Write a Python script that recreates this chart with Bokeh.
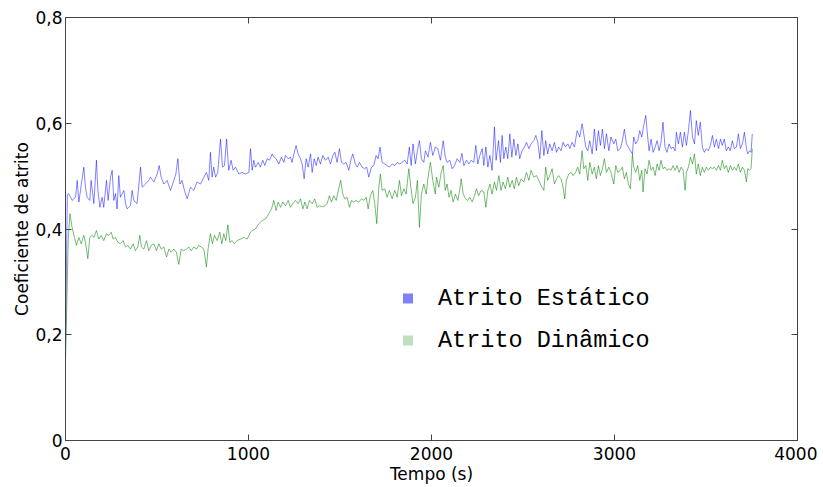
from bokeh.plotting import figure
from bokeh.models import (ColumnDataSource, FixedTicker, LinearAxis, Legend,
                          LegendItem, Range1d)
from bokeh.embed import file_html
from bokeh.resources import INLINE

# ---------------- data ----------------
x_ticks = [0, 1000, 2000, 3000, 4000]
x_tick_labels = ["0", "1000", "2000", "3000", "4000"]
y_ticks = [0, 0.2, 0.4, 0.6, 0.8]
y_tick_labels = ["0", "0,2", "0,4", "0,6", "0,8"]

series_names = ["Atrito Estático", "Atrito Dinâmico"]

static_t = [0, 10, 18, 36, 55, 64, 73, 82, 100, 109, 118, 133, 140, 155, 169, 177, 188, 200, 209, 224,
            233, 246, 255, 264, 273, 282, 291, 300, 319, 328, 337, 355, 364, 373, 391, 410, 419, 437,
            455, 464, 483, 501, 512, 523, 537, 555, 574, 592, 603, 614, 625, 637, 650, 665, 683, 701,
            719, 738, 756, 770, 783, 792, 801, 810, 820, 832, 847, 858, 869, 880, 892, 905, 916, 929,
            947, 965, 983, 1002, 1011,
            1020, 1029, 1038, 1053, 1065, 1078, 1089, 1102, 1115, 1129, 1140, 1151, 1166, 1180, 1193,
            1202, 1217, 1229, 1238, 1248, 1260, 1271, 1284, 1293, 1304, 1315, 1326, 1339, 1348, 1359,
            1370, 1380, 1393, 1406, 1421, 1435, 1448, 1461, 1472, 1484, 1497, 1508, 1521, 1533, 1548,
            1559, 1570, 1584, 1595, 1606, 1621, 1634, 1646, 1657, 1672, 1685, 1697, 1708, 1719, 1730,
            1745, 1757, 1770, 1785, 1799, 1812, 1825, 1839, 1854, 1867, 1879, 1889, 1899, 1912, 1923,
            1934, 1945, 1958, 1967, 1981, 1994, 2007, 2021,
            2034, 2049, 2064, 2075, 2085, 2100, 2113, 2126, 2140, 2155, 2166, 2177, 2191, 2204, 2217,
            2231, 2242, 2253, 2264, 2277, 2286, 2297, 2308, 2319, 2331, 2344, 2353, 2366, 2377, 2386,
            2395, 2406, 2417, 2428, 2439, 2450, 2461, 2472, 2482, 2495, 2508, 2519, 2532, 2544, 2559,
            2570, 2581, 2592, 2603, 2614, 2624, 2635, 2646, 2659, 2672, 2683, 2695, 2708, 2719, 2732,
            2745, 2756, 2768, 2781, 2796, 2810, 2823, 2832, 2843, 2854, 2865, 2878, 2890, 2901, 2912,
            2923, 2934, 2945, 2956, 2969, 2981, 2996, 3007, 3018, 3032,
            3043, 3054, 3065, 3076, 3087, 3098, 3105, 3116, 3127, 3138, 3149, 3160, 3171, 3178, 3189,
            3200, 3211, 3222, 3233, 3244, 3254, 3265, 3276, 3287, 3298, 3309, 3320, 3331, 3338, 3349,
            3360, 3371, 3382, 3393, 3404, 3415, 3426, 3437, 3447, 3458, 3469, 3480, 3491, 3502, 3513,
            3524, 3535, 3546, 3557, 3568, 3579, 3589, 3600, 3611, 3622, 3633, 3644, 3655, 3666, 3677,
            3688, 3699, 3710, 3721, 3728, 3739, 3746, 3753]
static_mu = [0.18, 0.465, 0.467, 0.454, 0.460, 0.492, 0.451, 0.473, 0.517, 0.479, 0.460, 0.454, 0.492,
             0.448, 0.530, 0.473, 0.441, 0.460, 0.441, 0.492, 0.454, 0.498, 0.511, 0.454, 0.467, 0.438,
             0.501, 0.460, 0.473, 0.448, 0.438, 0.444, 0.473, 0.454, 0.448, 0.517, 0.479, 0.485, 0.492,
             0.498, 0.489, 0.504, 0.520, 0.498, 0.485, 0.492, 0.473, 0.492, 0.504, 0.533, 0.485, 0.492,
             0.473, 0.457, 0.479, 0.473, 0.489, 0.485, 0.498, 0.507, 0.492, 0.545, 0.498, 0.517, 0.498,
             0.507, 0.570, 0.517, 0.520, 0.570, 0.511, 0.530, 0.511, 0.517, 0.504, 0.507, 0.504, 0.507,
             0.552,
             0.511, 0.530, 0.517, 0.526, 0.517, 0.530, 0.520, 0.533, 0.530, 0.542, 0.536, 0.533, 0.523,
             0.536, 0.526, 0.539, 0.533, 0.536, 0.526, 0.542, 0.558, 0.542, 0.533, 0.523, 0.495, 0.533,
             0.517, 0.542, 0.507, 0.533, 0.520, 0.536, 0.523, 0.539, 0.530, 0.536, 0.523, 0.539, 0.545,
             0.526, 0.552, 0.526, 0.523, 0.526, 0.511, 0.530, 0.542, 0.523, 0.517, 0.526, 0.517, 0.514,
             0.517, 0.498, 0.517, 0.520, 0.539, 0.533, 0.555, 0.526, 0.523, 0.520, 0.517, 0.523, 0.520,
             0.526, 0.523, 0.526, 0.530, 0.523, 0.555, 0.520, 0.561, 0.523, 0.548, 0.567, 0.533, 0.526,
             0.548, 0.536, 0.564, 0.539, 0.555,
             0.552, 0.530, 0.567, 0.536, 0.526, 0.530, 0.514, 0.520, 0.533, 0.526, 0.543, 0.520, 0.530,
             0.523, 0.530, 0.526, 0.558, 0.523, 0.539, 0.552, 0.520, 0.555, 0.517, 0.539, 0.511, 0.593,
             0.530, 0.567, 0.526, 0.577, 0.533, 0.555, 0.533, 0.580, 0.536, 0.570, 0.539, 0.561, 0.533,
             0.548, 0.555, 0.564, 0.552, 0.561, 0.567, 0.577, 0.564, 0.533, 0.586, 0.539, 0.567, 0.542,
             0.561, 0.548, 0.564, 0.545, 0.555, 0.548, 0.564, 0.555, 0.561, 0.552, 0.564, 0.555, 0.586,
             0.574, 0.599, 0.580, 0.555, 0.548, 0.567, 0.542, 0.589, 0.548, 0.586, 0.558, 0.589, 0.552,
             0.580, 0.548, 0.574, 0.561, 0.570, 0.548, 0.552,
             0.567, 0.589, 0.561, 0.555, 0.548, 0.542, 0.574, 0.561, 0.567, 0.586, 0.574, 0.596, 0.615,
             0.586, 0.548, 0.570, 0.545, 0.555, 0.567, 0.548, 0.564, 0.602, 0.555, 0.545, 0.561, 0.552,
             0.555, 0.548, 0.583, 0.561, 0.583, 0.555, 0.583, 0.558, 0.586, 0.624, 0.574, 0.561, 0.605,
             0.577, 0.602, 0.555, 0.545, 0.552, 0.548, 0.558, 0.577, 0.555, 0.570, 0.552, 0.570, 0.558,
             0.570, 0.548, 0.555, 0.548, 0.567, 0.552, 0.555, 0.580, 0.552, 0.561, 0.583, 0.552, 0.542,
             0.548, 0.545, 0.580]

dynamic_t = [0, 15, 24, 36, 49, 60, 73, 86, 100, 109, 122, 133, 146, 155, 169, 182, 195, 209, 224, 237,
             250, 260, 273, 286, 300, 315, 328, 340, 355, 370, 382, 395, 406, 415, 428, 443, 455, 468,
             483, 497, 510, 523, 537, 552, 565, 577, 592, 606, 619, 632, 646, 661, 674, 687, 701, 716,
             728, 741, 756, 770, 779, 792, 803, 814, 829, 843, 854, 865, 876, 887, 898, 911, 923, 938,
             956, 974, 993, 1011,
             1020, 1038, 1056, 1075, 1093, 1111, 1126, 1138, 1151, 1162, 1175, 1187, 1202, 1217, 1229,
             1242, 1257, 1271, 1284, 1297, 1308, 1320, 1333, 1348, 1362, 1375, 1388, 1402, 1417, 1430,
             1442, 1453, 1466, 1479, 1493, 1504, 1515, 1526, 1539, 1552, 1563, 1575, 1588, 1603, 1617,
             1630, 1643, 1654, 1666, 1679, 1690, 1701, 1712, 1721, 1730, 1745, 1757, 1770, 1785, 1799,
             1812, 1825, 1836, 1849, 1861, 1876, 1887, 1899, 1912, 1923, 1934, 1945, 1958, 1971, 1981,
             1994, 2007, 2021,
             2027, 2040, 2053, 2064, 2075, 2085, 2096, 2107, 2118, 2131, 2144, 2155, 2162, 2173, 2186,
             2198, 2209, 2222, 2235, 2246, 2258, 2271, 2286, 2297, 2308, 2319, 2331, 2344, 2355, 2368,
             2380, 2391, 2404, 2417, 2428, 2441, 2453, 2464, 2477, 2490, 2504, 2519, 2532, 2544, 2559,
             2574, 2586, 2599, 2614, 2624, 2635, 2646, 2659, 2672, 2683, 2695, 2708, 2719, 2728, 2737,
             2750, 2763, 2774, 2787, 2799, 2810, 2823, 2832, 2843, 2854, 2865, 2878, 2890, 2901, 2912,
             2923, 2934, 2945, 2956, 2969, 2981, 2996, 3007, 3018, 3032,
             3043, 3054, 3065, 3076, 3087, 3098, 3105, 3116, 3127, 3138, 3149, 3156, 3167, 3178, 3189,
             3200, 3211, 3222, 3233, 3244, 3254, 3265, 3276, 3287, 3298, 3309, 3320, 3331, 3342, 3353,
             3364, 3375, 3386, 3393, 3404, 3415, 3426, 3437, 3447, 3458, 3469, 3480, 3491, 3502, 3513,
             3524, 3535, 3546, 3557, 3568, 3579, 3589, 3600, 3611, 3622, 3633, 3644, 3655, 3666, 3677,
             3688, 3699, 3710, 3721, 3728, 3739, 3746, 3753]
dynamic_mu = [0.15, 0.38, 0.429, 0.403, 0.384, 0.369, 0.384, 0.372, 0.388, 0.375, 0.344, 0.384, 0.388,
              0.384, 0.397, 0.381, 0.388, 0.378, 0.391, 0.388, 0.394, 0.381, 0.384, 0.375, 0.372, 0.378,
              0.366, 0.369, 0.362, 0.372, 0.359, 0.366, 0.388, 0.366, 0.362, 0.378, 0.359, 0.369, 0.372,
              0.359, 0.372, 0.362, 0.366, 0.347, 0.362, 0.356, 0.362, 0.356, 0.333, 0.362, 0.359, 0.362,
              0.366, 0.359, 0.366, 0.362, 0.369, 0.366, 0.362, 0.328, 0.362, 0.391, 0.372, 0.388, 0.378,
              0.394, 0.372, 0.391, 0.378, 0.408, 0.375, 0.378, 0.372, 0.378, 0.381, 0.384, 0.381, 0.394,
              0.397, 0.400, 0.410, 0.416, 0.419, 0.429, 0.438, 0.454, 0.435, 0.451, 0.441, 0.451, 0.444,
              0.454, 0.441, 0.448, 0.454, 0.448, 0.457, 0.438, 0.451, 0.438, 0.454, 0.448, 0.457, 0.441,
              0.444, 0.442, 0.444, 0.448, 0.463, 0.451, 0.463, 0.454, 0.476, 0.492, 0.466, 0.457, 0.460,
              0.441, 0.454, 0.451, 0.454, 0.451, 0.457, 0.454, 0.460, 0.438, 0.463, 0.473, 0.448, 0.410,
              0.479, 0.504, 0.473, 0.476, 0.460, 0.473, 0.457, 0.473, 0.460, 0.492, 0.463, 0.476, 0.466,
              0.514, 0.479, 0.448, 0.460, 0.492, 0.403, 0.466, 0.485, 0.466, 0.498, 0.526, 0.492, 0.466,
              0.498, 0.479, 0.507, 0.520, 0.473, 0.485, 0.460, 0.473, 0.451, 0.466, 0.454, 0.476, 0.495,
              0.466, 0.457, 0.454, 0.460, 0.451, 0.463, 0.476, 0.463, 0.473, 0.470, 0.441, 0.473, 0.485,
              0.466, 0.489, 0.473, 0.501, 0.473, 0.489, 0.476, 0.498, 0.479, 0.492, 0.476, 0.498, 0.482,
              0.495, 0.489, 0.507, 0.492, 0.511, 0.498, 0.501, 0.492, 0.482, 0.473, 0.517, 0.492, 0.501,
              0.514, 0.485, 0.495, 0.501, 0.495, 0.479, 0.457, 0.492, 0.504, 0.507, 0.501, 0.507, 0.517,
              0.504, 0.548, 0.514, 0.520, 0.492, 0.526, 0.504, 0.517, 0.495, 0.520, 0.501, 0.514, 0.533,
              0.507, 0.517, 0.507, 0.485, 0.520, 0.507, 0.511,
              0.517, 0.495, 0.507, 0.485, 0.476, 0.542, 0.517, 0.507, 0.520, 0.492, 0.511, 0.470, 0.514,
              0.504, 0.530, 0.511, 0.517, 0.501, 0.523, 0.511, 0.530, 0.514, 0.517, 0.511, 0.514, 0.511,
              0.520, 0.511, 0.520, 0.507, 0.517, 0.511, 0.473, 0.507, 0.517, 0.536, 0.523, 0.542, 0.504,
              0.523, 0.501, 0.517, 0.507, 0.517, 0.511, 0.517, 0.514, 0.517, 0.511, 0.520, 0.511, 0.530,
              0.514, 0.520, 0.507, 0.520, 0.511, 0.517, 0.511, 0.523, 0.507, 0.517, 0.511, 0.489, 0.514,
              0.511, 0.514, 0.552]

# ---------------- figure ----------------
FONT = "DejaVu Sans"
AXIS_COLOR = "#444444"

p = figure(frame_width=732, frame_height=423,
           x_range=Range1d(0, 4000), y_range=Range1d(0, 0.8),
           output_backend="svg", toolbar_location=None,
           min_border_left=65, min_border_right=20, min_border_top=17, min_border_bottom=45)
p.background_fill_color = "white"
p.border_fill_color = "white"
p.outline_line_color = AXIS_COLOR
p.grid.visible = False

src_s = ColumnDataSource(dict(t=static_t, mu=static_mu))
src_d = ColumnDataSource(dict(t=dynamic_t, mu=dynamic_mu))
p.line("t", "mu", source=src_d, line_color="#008000", line_alpha=0.6, line_width=0.9)
p.line("t", "mu", source=src_s, line_color="#0000ff", line_alpha=0.55, line_width=0.9)

def style_axis(ax, ticks, labels, show_labels=True):
    ax.ticker = FixedTicker(ticks=ticks)
    ax.major_label_overrides = {t: (l if show_labels else "") for t, l in zip(ticks, labels)}
    ax.major_tick_in = 6
    ax.major_tick_out = 0
    ax.minor_tick_line_color = None
    ax.axis_line_color = AXIS_COLOR
    ax.major_tick_line_color = AXIS_COLOR
    ax.major_label_text_font = FONT
    ax.major_label_text_font_size = "17px"
    ax.major_label_text_color = "black"
    ax.axis_label_text_font = FONT
    ax.axis_label_text_font_size = "17px"
    ax.axis_label_text_font_style = "normal"
    ax.axis_label_text_color = "black"

xa = p.xaxis[0]
ya = p.yaxis[0]
style_axis(xa, x_ticks, x_tick_labels)
style_axis(ya, y_ticks, y_tick_labels)
xa.axis_label = "Tempo (s)"
xa.major_label_standoff = 6
xa.axis_label_standoff = 1
ya.axis_label = "Coeficiente de atrito"
ya.major_label_standoff = 3
ya.axis_label_standoff = 0

top = LinearAxis()
style_axis(top, x_ticks, x_tick_labels, show_labels=False)
top.major_label_standoff = 0
p.add_layout(top, "above")
right = LinearAxis()
style_axis(right, y_ticks, y_tick_labels, show_labels=False)
right.major_label_standoff = 0
p.add_layout(right, "right")

# legend with square swatches (renderers hold no visible point)
nan = float("nan")
leg_s = p.scatter(x=[nan], y=[nan], marker="square", size=10, fill_color="#8080ff", line_color=None)
leg_d = p.scatter(x=[nan], y=[nan], marker="square", size=10, fill_color="#bfdfbf", line_color=None)
legend = Legend(items=[LegendItem(label=series_names[0], renderers=[leg_s], index=0),
                       LegendItem(label=series_names[1], renderers=[leg_d], index=0)],
                location=(330, 85), orientation="vertical",
                glyph_width=25, glyph_height=30, label_height=30, spacing=12,
                label_standoff=18, padding=0, margin=0,
                border_line_color=None, background_fill_alpha=0,
                label_text_font="Liberation Mono", label_text_font_size="23.5px",
                label_text_color="black")
p.add_layout(legend, "center")

open("out.html", "w").write(file_html(p, INLINE))
